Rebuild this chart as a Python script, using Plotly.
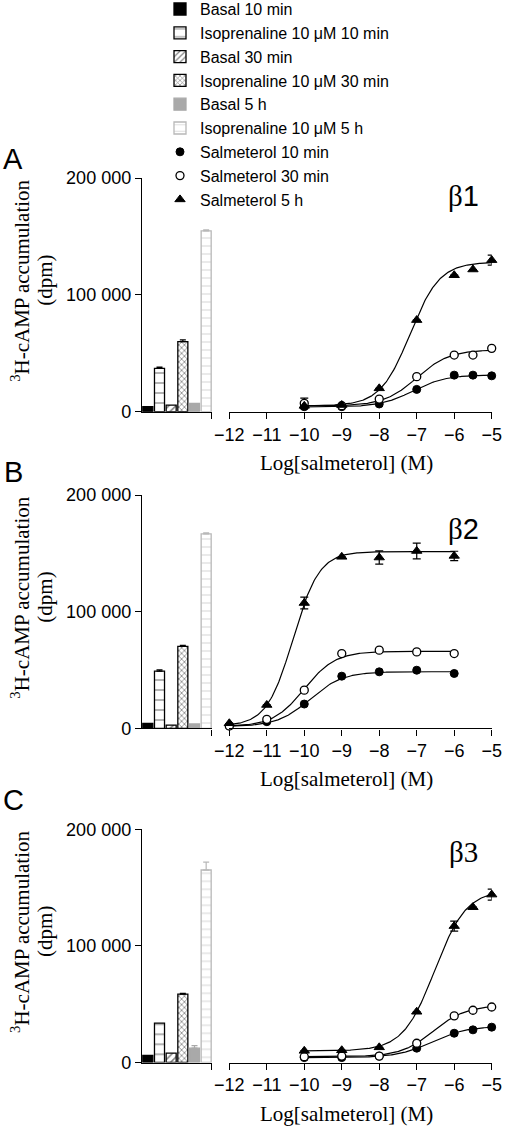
import numpy as np
import plotly.graph_objects as go

W, H = 505, 1126

# ---------------- data ----------------
bar_names = ["Basal 10 min", "Isoprenaline 10 μM 10 min", "Basal 30 min",
             "Isoprenaline 10 μM 30 min", "Basal 5 h", "Isoprenaline 10 μM 5 h"]
bar_pos = [0, 1, 2, 3, 4, 5]

bars_A = [4300, 37000, 5700, 60000, 7200, 154700]
bars_A_err = [0, 1200, 0, 1500, 0, 1000]
bars_B = [4300, 49000, 2800, 70300, 3700, 166700]
bars_B_err = [0, 1200, 0, 800, 0, 800]
bars_C = [6000, 33700, 8000, 58600, 12300, 165100]
bars_C_err = [0, 0, 0, 800, 2200, 6700]

curve_names = ["Salmeterol 10 min", "Salmeterol 30 min", "Salmeterol 5 h"]

log_A = [-10, -9, -8, -7, -6, -5.5, -5]
A_10 = [4300, 4300, 6600, 19100, 31300, 31300, 30700]
A_30 = [7200, 5100, 10800, 30000, 48500, 48500, 54200]
A_5h = [5000, 5700, 20000, 78400, 116800, 121700, 129700]
A_10_err = [0, 0, 0, 0, 0, 0, 0]
A_30_err = [4500, 0, 0, 0, 0, 0, 0]
A_5h_err = [0, 0, 0, 0, 0, 0, 4300]

log_B = [-12, -11, -10, -9, -8, -7, -6]
B_10 = [2000, 5700, 20800, 44700, 48400, 49800, 47000]
B_30 = [2000, 7700, 32700, 64100, 67000, 65500, 64100]
B_5h = [4300, 20000, 107400, 147000, 146400, 152000, 147800]
B_10_err = [0, 0, 0, 0, 0, 0, 0]
B_30_err = [0, 0, 0, 0, 0, 0, 0]
B_5h_err = [0, 0, 5000, 0, 5700, 6700, 4000]

log_C = [-10, -9, -8, -7, -6, -5.5, -5]
C_10 = [4200, 4200, 5500, 12300, 25100, 28000, 30300]
C_30 = [5000, 5500, 5500, 16500, 40000, 44800, 47600]
C_5h = [10000, 10500, 13000, 43500, 117000, 133200, 144000]
C_10_err = [0, 0, 0, 0, 0, 0, 0]
C_30_err = [0, 0, 0, 0, 0, 0, 0]
C_5h_err = [0, 0, 0, 0, 4300, 0, 4700]

# fitted sigmoid parameters: bottom, top, logEC50, hill
fit_A = [[4000, 31500, -7.1, 1.0], [5000, 53000, -7.0, 1.0], [5000, 128000, -7.18, 1.1]]
fit_B = [[1500, 48500, -9.85, 1.0], [1500, 66000, -10.0, 1.05], [2000, 151500, -10.3, 1.24]]
fit_C = [[4200, 31000, -6.6, 0.95], [5000, 49000, -6.55, 1.0], [10000, 148000, -6.52, 1.03]]

x_ticks = [-12, -11, -10, -9, -8, -7, -6, -5]
y_ticks = [0, 100000, 200000]
y_ticktext = ["0", "100 000", "200 000"]
panel_letters = ["A", "B", "C"]
receptor_labels = ["β<span style='font-family:Liberation Sans'>1</span>",
                   "β<span style='font-family:Liberation Sans'>2</span>",
                   "β3"]

# ---------------- styles ----------------
SANS = "Liberation Sans, Arial, sans-serif"
SERIF = "Liberation Serif, Times New Roman, serif"
GREY = "#a9a9a9"
LGREY = "#b8b8b8"
bar_styles = [
    dict(color="black", line=dict(color="black", width=1.3)),
    dict(color="white", line=dict(color="black", width=1.3),
         pattern=dict(shape="-", fgcolor="black", bgcolor="white", size=10, solidity=0.12)),
    dict(color="white", line=dict(color="black", width=1.3),
         pattern=dict(shape="/", fgcolor="black", bgcolor="white", size=5, solidity=0.3)),
    dict(color="white", line=dict(color="black", width=1.3),
         pattern=dict(shape="x", fgcolor="black", bgcolor="white", size=4, solidity=0.35)),
    dict(color=GREY, line=dict(color=GREY, width=1.3)),
    dict(color="white", line=dict(color=LGREY, width=1.3),
         pattern=dict(shape="-", fgcolor=LGREY, bgcolor="white", size=8, solidity=0.15)),
]
bar_err_colors = ["black", "black", "black", "black", GREY, LGREY]
marker_styles = [
    dict(symbol="circle", size=8, color="black", line=dict(color="black", width=1)),
    dict(symbol="circle", size=8, color="white", line=dict(color="black", width=1.3)),
    dict(symbol="triangle-up", size=9, color="black", line=dict(color="black", width=1)),
]

def py2paper(py):
    return 1 - py / H

def px2paper(px):
    return px / W

# pixel geometry of the panels: (y of 0, y of 200000)
panel_y = [(411.7, 178.0), (728.3, 495.0), (1062.5, 829.3)]
bar_x_dom = [px2paper(142), px2paper(212)]
crv_x_dom = [px2paper(229.3), px2paper(491.7)]
letter_y = [159, 472, 800]
beta_y = [196, 529, 852]

panels = [
    dict(bars=bars_A, bars_err=bars_A_err, logx=log_A, ys=[A_10, A_30, A_5h],
         errs=[A_10_err, A_30_err, A_5h_err], fits=fit_A),
    dict(bars=bars_B, bars_err=bars_B_err, logx=log_B, ys=[B_10, B_30, B_5h],
         errs=[B_10_err, B_30_err, B_5h_err], fits=fit_B),
    dict(bars=bars_C, bars_err=bars_C_err, logx=log_C, ys=[C_10, C_30, C_5h],
         errs=[C_10_err, C_30_err, C_5h_err], fits=fit_C),
]

fig = go.Figure()
layout_axes = {}
annotations = []

for p, pan in enumerate(panels):
    xb = f"x{2*p+1}" if p > 0 else "x"
    xc = f"x{2*p+2}"
    ya = f"y{p+1}" if p > 0 else "y"
    # bars
    for i in range(6):
        fig.add_trace(go.Bar(
            x=[bar_pos[i]], y=[pan["bars"][i]], width=0.86,
            name=bar_names[i], legendgroup=bar_names[i], showlegend=(p == 0),
            marker=bar_styles[i], xaxis=xb, yaxis=ya,
            error_y=dict(type="data", symmetric=False, array=[pan["bars_err"][i]],
                         arrayminus=[0], color=bar_err_colors[i], thickness=1.2, width=3,
                         visible=pan["bars_err"][i] > 0),
        ))
    # fitted curves
    for k in range(3):
        b, t, ec, h = pan["fits"][k]
        xs = np.linspace(min(pan["logx"]), max(pan["logx"]), 200)
        ys = b + (t - b) / (1 + 10 ** ((ec - xs) * h))
        fig.add_trace(go.Scatter(x=xs, y=ys, mode="lines", line=dict(color="black", width=1.2),
                                 showlegend=False, hoverinfo="skip", xaxis=xc, yaxis=ya,
                                 cliponaxis=False))
    # markers
    for k in range(3):
        errs = pan["errs"][k]
        fig.add_trace(go.Scatter(
            x=pan["logx"], y=pan["ys"][k], mode="markers", name=curve_names[k],
            legendgroup=curve_names[k], showlegend=(p == 0), marker=marker_styles[k],
            xaxis=xc, yaxis=ya, cliponaxis=False,
            error_y=dict(type="data", array=errs, color="black", thickness=1.2, width=4,
                         visible=any(e > 0 for e in errs)),
        ))

    y0, y1 = panel_y[p]
    ydom = [py2paper(y0), py2paper(y1)]
    axline = dict(showline=True, linecolor="black", linewidth=1.4, ticks="outside",
                  tickcolor="black", tickwidth=1.4, ticklen=6, showgrid=False, zeroline=False,
                  tickfont=dict(family=SANS, size=18, color="black"))
    xbkey = "xaxis" if p == 0 else f"xaxis{2*p+1}"
    layout_axes[xbkey] = dict(axline, domain=bar_x_dom, range=[-0.5, 5.5], anchor=ya,
                              tickvals=[5.499], showticklabels=False, fixedrange=True)
    layout_axes[f"xaxis{2*p+2}"] = dict(axline, domain=crv_x_dom, range=[-12, -5], anchor=ya,
                                        tickvals=x_ticks)
    yakey = "yaxis" if p == 0 else f"yaxis{p+1}"
    layout_axes[yakey] = dict(axline, domain=ydom, range=[0, 200000], anchor=xb,
                              tickvals=y_ticks, ticktext=y_ticktext)

    # texts
    ymid = (y0 + y1) / 2 - 14
    annotations.append(dict(text="<sup>3</sup>H-cAMP accumulation", x=px2paper(21), y=py2paper(ymid),
                            xref="paper", yref="paper", textangle=-90, showarrow=False,
                            font=dict(family=SERIF, size=21, color="black"),
                            xanchor="center", yanchor="middle"))
    annotations.append(dict(text="(dpm)", x=px2paper(45), y=py2paper(ymid),
                            xref="paper", yref="paper", textangle=-90, showarrow=False,
                            font=dict(family=SERIF, size=21, color="black"),
                            xanchor="center", yanchor="middle"))
    annotations.append(dict(text="Log[salmeterol] (M)", x=px2paper(346.5), y=py2paper(y0 + 51),
                            xref="paper", yref="paper", showarrow=False,
                            font=dict(family=SERIF, size=21, color="black"),
                            xanchor="center", yanchor="middle"))
    annotations.append(dict(text=panel_letters[p], x=px2paper(13), y=py2paper(letter_y[p]),
                            xref="paper", yref="paper", showarrow=False,
                            font=dict(family=SANS, size=29, color="black"),
                            xanchor="center", yanchor="middle"))
    annotations.append(dict(text=receptor_labels[p], x=px2paper(463), y=py2paper(beta_y[p]),
                            xref="paper", yref="paper", showarrow=False,
                            font=dict(family=SERIF, size=29, color="black"),
                            xanchor="center", yanchor="middle"))

fig.update_layout(
    width=W, height=H, margin=dict(l=0, r=0, t=0, b=0, autoexpand=False),
    paper_bgcolor="white", plot_bgcolor="white", barmode="overlay",
    font=dict(family=SANS, color="black"),
    legend=dict(x=px2paper(160), y=1.007, xanchor="left", yanchor="top",
                font=dict(family=SANS, size=16, color="black"), tracegroupgap=0,
                bgcolor="rgba(0,0,0,0)", itemsizing="trace"),
    annotations=annotations,
    **layout_axes,
)

fig.write_html("out.html", config={"displayModeBar": False},
               post_script="document.body.style.margin='0px';")
